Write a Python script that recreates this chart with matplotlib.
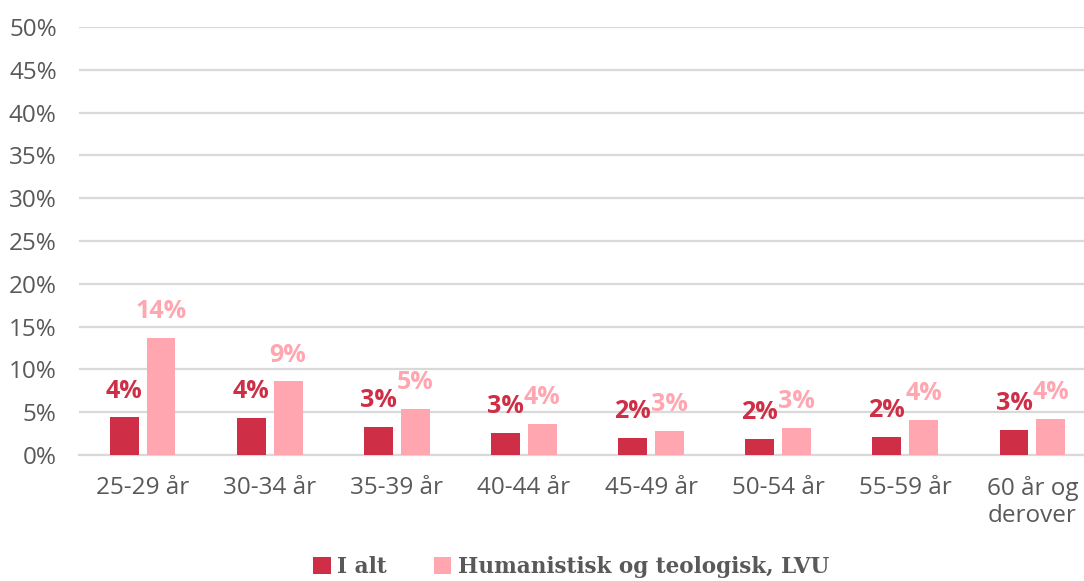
import matplotlib.pyplot as plt
import numpy as np

# aldersgrupper og andele (%)
grupper = ['25-29 år', '30-34 år', '35-39 år', '40-44 år', '45-49 år',
           '50-54 år', '55-59 år', '60 år og\nderover']
i_alt = [4.4, 4.3, 3.3, 2.6, 2.0, 1.9, 2.1, 2.9]
hum_teo = [13.7, 8.6, 5.4, 3.6, 2.8, 3.2, 4.1, 4.2]
yticks = [0, 5, 10, 15, 20, 25, 30, 35, 40, 45, 50]

c_dark = '#CE2F46'
c_pink = '#FFA6B1'
c_text = '#595959'
c_grid = '#D9D9D9'

plt.rcParams['font.family'] = ['Open Sans', 'DejaVu Sans']

fig = plt.figure(figsize=(10.84, 5.81), dpi=100)
ax = fig.add_axes([79 / 1084, 1 - 455 / 581, 1017 / 1084, 428 / 581])

x = np.arange(len(grupper))
w = 0.228
off = 0.145
b1 = ax.bar(x - off, i_alt, w, color=c_dark, zorder=3, label='I alt')
b2 = ax.bar(x + off, hum_teo, w, color=c_pink, zorder=3,
            label='Humanistisk og teologisk, LVU')

for xi, v in zip(x, i_alt):
    ax.text(xi - off, v + 1.6, f'{round(v)}%', ha='center', va='bottom',
            color=c_dark, fontsize=18, fontweight='bold')
for xi, v in zip(x, hum_teo):
    ax.text(xi + off, v + 1.6, f'{round(v)}%', ha='center', va='bottom',
            color=c_pink, fontsize=18, fontweight='bold')

ax.set_xlim(-0.5, len(grupper) - 0.5)
ax.set_ylim(0, 50)
ax.set_yticks(yticks)
ax.set_yticklabels([f'{t}%' for t in yticks])
ax.set_xticks(x)
ax.set_xticklabels(grupper, linespacing=1.2)
ax.tick_params(axis='both', length=0, labelsize=17.5, labelcolor=c_text)
ax.tick_params(axis='y', pad=16)
ax.tick_params(axis='x', pad=15)
ax.grid(axis='y', color=c_grid, linewidth=1.6, zorder=0)
for s in ['top', 'right', 'left']:
    ax.spines[s].set_visible(False)
ax.spines['bottom'].set_color(c_grid)
ax.spines['bottom'].set_linewidth(1.6)

fig.legend(handles=[b1, b2], loc='center', bbox_to_anchor=(0.527, 1 - 567 / 581),
           ncol=2, frameon=False, handlelength=0.8, handleheight=0.8,
           handletextpad=0.3, columnspacing=2.2,
           prop={'family': 'DejaVu Serif', 'weight': 'bold', 'size': 15.5})
for t in fig.legends[0].get_texts():
    t.set_color(c_text)

fig.savefig('out.png', dpi=100)
